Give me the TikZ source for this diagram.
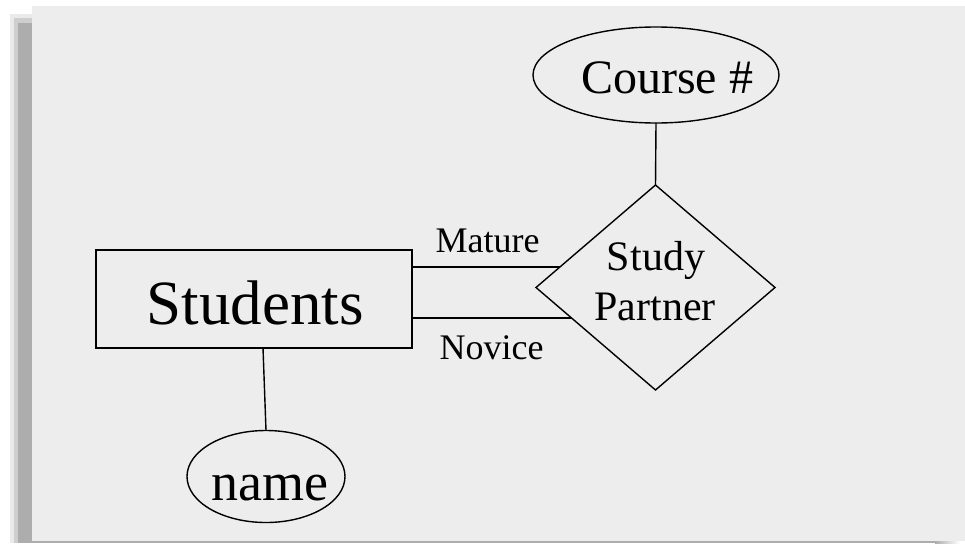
\documentclass[tikz,border=0pt]{standalone}
\usepackage{fontspec}
\setmainfont{Liberation Serif}
\usetikzlibrary{shapes.geometric}
\definecolor{panel}{HTML}{EDEDED}
\definecolor{shadowgray}{HTML}{ADADAD}
\tikzset{
  er/.style={draw=black, line width=1.4pt, inner sep=0pt, outer sep=0pt},
  entitybox/.style={er, rectangle, line width=1.8pt},
  attr/.style={er, ellipse},
  relship/.style={er, diamond},
  conn/.style={line width=1.4pt, black},
  txt/.style={anchor=base, inner sep=0pt, text=black},
}
\begin{document}
\begin{tikzpicture}[x=1pt, y=-1pt]
\useasboundingbox (0,0) rectangle (965,543);
% background
\fill[white] (0,0) rectangle (965,543);
% shadow with soft edge
\fill[shadowgray, opacity=0.25] (10,14) rectangle (32,543);
\fill[shadowgray, opacity=0.45] (14,18) rectangle (32,543);
\fill[shadowgray] (18,23) rectangle (32,543);
% bottom line
\fill[shadowgray] (32,541.3) rectangle (935,543);
\shade[left color=shadowgray, right color=white] (935,541.3) rectangle (960,543);
% panel
\fill[panel] (32,6) rectangle (965,541.3);

% nodes
\node[entitybox, minimum width=316pt, minimum height=98pt] (S) at (254,299) {};
\node[txt, font=\fontsize{63}{63}\selectfont] (St) at (255,324) {Students};

\node[relship, minimum width=239pt, minimum height=205pt] (SP) at (655.5,287.5) {};
\node[txt, font=\fontsize{42}{42}\selectfont] (SPa) at (656,270) {Study};
\node[txt, font=\fontsize{42}{42}\selectfont] (SPb) at (655,320) {Partner};

\node[attr, minimum width=246pt, minimum height=96pt] (C) at (656,75) {};
\node[txt, font=\fontsize{48}{48}\selectfont] (Ct) at (667,93.3) {Course \#};

\node[attr, minimum width=158pt, minimum height=92pt] (N) at (266,476.5) {};
\node[txt, font=\fontsize{54}{54}\selectfont] (Nt) at (269.7,500) {name};

\node[txt, font=\fontsize{36}{36}\selectfont] (M) at (487.5,252) {Mature};
\node[txt, font=\fontsize{36}{36}\selectfont] (V) at (491.5,359) {Novice};

% connectors
\draw[conn] (C.south) -- (SP.north);
\draw[conn] ([xshift=9pt]S.south) -- (N.north);
\draw[conn] (SP.168) -- (SP.168 -| S.east);
\draw[conn] (SP.200) -- (SP.200 -| S.east);
\end{tikzpicture}
\end{document}
